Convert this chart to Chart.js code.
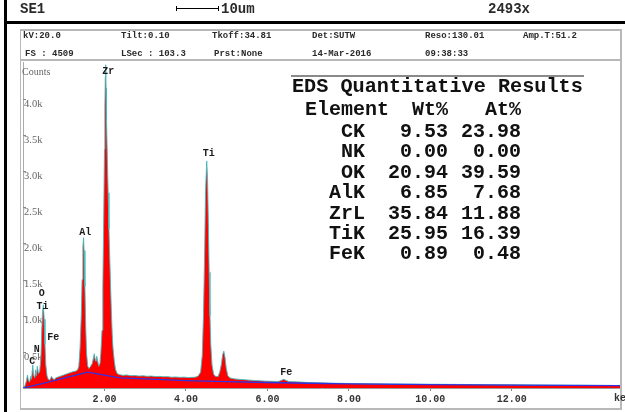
<!DOCTYPE html>
<html><head><meta charset="utf-8">
<script src="https://cdn.jsdelivr.net/npm/chart.js@4.4.1/dist/chart.umd.min.js"></script>
<style>
html,body{margin:0;padding:0;background:#fff;width:625px;height:412px;overflow:hidden;}
#wrap{position:relative;width:625px;height:412px;}
#chart{position:absolute;left:0;top:0;}
.t{position:absolute;white-space:pre;font-family:"Liberation Mono","Courier New",monospace;font-weight:bold;color:#2a2a2a;line-height:1;}
.ln{position:absolute;}
</style></head>
<body><div id="wrap"><canvas id="chart" width="625" height="412"></canvas></div>
<script>
// ---- spectrum data (keV, counts) ----
const energyKeV = [0.00,0.04,0.08,0.11,0.13,0.16,0.19,0.21,0.24,0.26,0.29,0.31,0.33,0.35,0.38,0.41,0.44,0.46,0.48,0.50,0.52,0.54,0.56,0.59,0.62,0.66,0.70,0.73,0.77,0.80,0.90,1.00,1.10,1.20,1.30,
1.34,1.37,1.40,1.43,1.45,1.47,1.487,1.50,1.52,1.54,1.56,1.59,1.62,1.66,1.70,1.73,1.75,1.77,1.79,1.81,1.83,1.86,1.89,
1.91,1.94,1.96,1.98,2.00,2.01,2.02,2.03,2.04,2.05,2.07,2.09,2.11,2.13,2.15,2.17,2.19,2.21,2.24,2.27,2.31,
2.36,2.45,2.55,2.65,2.75,2.85,2.95,3.05,3.15,3.25,3.35,3.45,3.55,3.65,3.75,3.85,3.95,4.05,4.15,4.23,
4.30,4.36,4.40,4.43,4.46,4.48,4.51,4.53,4.55,4.57,4.59,4.61,4.64,4.68,4.73,4.79,4.83,4.87,4.90,4.93,4.96,4.99,5.03,5.08,
5.20,5.35,5.50,5.65,5.80,5.95,6.10,6.22,6.28,6.34,6.40,6.46,6.52,6.65,6.80,7.00,7.25,7.50,7.75,8.00,8.50,9.00,9.50,10.00,10.50,11.00,11.50,12.00,12.50,13.00,13.50,14.00,14.68];
const counts = [0,20,90,180,110,80,160,120,320,180,140,250,170,300,200,230,420,800,1050,1150,950,600,320,170,120,110,160,130,115,140,160,180,200,220,235,
250,300,550,1000,1500,1950,2080,1900,1400,850,480,300,270,300,340,420,475,400,370,440,380,300,340,
480,800,1400,2300,3300,3900,4300,4470,4150,3700,3200,2700,2200,1800,1400,1050,750,550,380,260,200,
185,175,180,170,172,165,168,162,165,158,160,155,157,150,152,147,150,145,147,150,
165,220,450,1000,1900,2700,3140,2900,2300,1600,1000,600,320,190,160,160,220,330,460,510,420,270,170,140,
125,118,112,105,100,95,92,90,92,105,120,105,90,86,82,76,72,68,65,62,58,56,54,52,50,48,46,44,42,40,38,36,34];
// fitted background
const bgEnergyKeV = [0,0.5,1.0,1.59,2.0,2.38,3.0,4.0,5.0,6.0,7.0,8.0,10.0,12.0,14.68];
const bgCounts = [0,65,135,220,178,140,125,103,88,76,66,58,48,40,32];
// axes
const xTickValues = [2,4,6,8,10,12];
const yTickValues = [500,1000,1500,2000,2500,3000,3500,4000];
const xMaxKeV = 14.68;
const yFullScale = 4509;
// peak labels (label anchor in keV / counts)
const peakNames = ['Zr','Ti','Al','O','Ti','Fe','N','C','Fe'];
const peakLabelKeV = [2.09,4.56,1.53,0.46,0.48,0.74,0.34,0.23,6.46];
const peakLabelCounts = [4375,3237,2148,1310,1134,696,535,364,212];
// quant table
const elements = ['CK','NK','OK','AlK','ZrL','TiK','FeK'];
const wtPct = ['9.53','0.00','20.94','6.85','35.84','25.95','0.89'];
const atPct = ['23.98','0.00','39.59','7.68','11.88','16.39','0.48'];
// header
const headerRow1 = ['kV:20.0','Tilt:0.10','Tkoff:34.81','Det:SUTW','Reso:130.01','Amp.T:51.2'];
const headerRow2 = ['FS : 4509','LSec : 103.3','Prst:None','14-Mar-2016','09:38:33'];

const wrap = document.getElementById('wrap');
function txt(s, left, cy, size, extra){
  const d=document.createElement('div'); d.className='t'; d.textContent=s;
  d.style.fontSize=size+'px'; d.style.top=(cy-0.48*size)+'px';
  if(extra && extra.right!==undefined){ d.style.right=(625-extra.right)+'px'; d.style.textAlign='right'; }
  else d.style.left=left+'px';
  if(extra && extra.font) d.style.fontFamily=extra.font;
  if(extra && extra.weight) d.style.fontWeight=extra.weight;
  if(extra && extra.color) d.style.color=extra.color;
  wrap.appendChild(d); return d;
}
function box(l,t,w,h,c){const d=document.createElement('div');d.className='ln';
  Object.assign(d.style,{left:l+'px',top:t+'px',width:w+'px',height:h+'px',background:c});wrap.appendChild(d);}

// frame
box(4,0,3,412,'#000');
box(4,21,621,3,'#000');
box(20,29,602,2,'#b8b8b8');
box(20,29,1,381,'#b8b8b8');
box(620,29,2,381,'#b8b8b8');
box(20,408,602,2,'#b8b8b8');
box(20,59,602,2,'#b8b8b8');
// top bar
txt('SE1',20,9,14);
box(176,8,43,1,'#000'); box(176,6,1,5,'#000'); box(218,6,1,5,'#000');
txt('10um',221,9,14);
txt('2493x',488,9,14);
const col1=[23,121,212,312,425,523];
headerRow1.forEach((s,i)=>txt(s,col1[i],36,9));
const col2=[25,121,214,312,425];
headerRow2.forEach((s,i)=>txt(s,col2[i],54,9));
// table
box(291,75,293,2,'#8a8a8a');
txt('EDS Quantitative Results',292,87,20.2,{color:'#111'});
txt('Element',305,110,20,{color:'#111'});
txt('Wt%',0,110,20,{right:448,color:'#111'});
txt('At%',0,110,20,{right:521,color:'#111'});
elements.forEach((e,i)=>{
  const cy=131.7+20.35*i;
  txt(e,0,cy,20,{right:365,color:'#111'});
  txt(wtPct[i],0,cy,20,{right:448,color:'#111'});
  txt(atPct[i],0,cy,20,{right:521,color:'#111'});
});
txt('Counts',22,71.5,10,{font:'"Liberation Serif",serif',weight:'normal',color:'#666'});
txt('keV',614,398.5,10,{color:'#333'});

const peakLabelPlugin = {
  id:'peakLabels',
  afterDatasetsDraw(chart){
    const ctx=chart.ctx, xs=chart.scales.x, ys=chart.scales.y;
    ctx.save();
    // small inward y tick marks
    ctx.strokeStyle='#888'; ctx.lineWidth=1;
    ys.ticks.forEach(t=>{const py=Math.round(ys.getPixelForValue(t.value))+0.5;
      ctx.beginPath(); ctx.moveTo(chart.chartArea.left,py); ctx.lineTo(chart.chartArea.left+3,py); ctx.stroke();});
    ctx.font='bold 10px "Liberation Mono", monospace';
    ctx.fillStyle='#1a1a1a'; ctx.textAlign='center'; ctx.textBaseline='middle';
    peakNames.forEach((n,i)=>ctx.fillText(n, xs.getPixelForValue(peakLabelKeV[i]), ys.getPixelForValue(peakLabelCounts[i])));
    ctx.restore();
  }
};

new Chart(document.getElementById('chart'),{
  type:'line',
  data:{datasets:[
    {label:'Background', data:bgEnergyKeV.map((x,i)=>({x,y:bgCounts[i]})), borderColor:'rgb(50,50,225)', borderWidth:1.3, pointRadius:0, fill:false, order:0},
    {label:'Spectrum', data:energyKeV.map((x,i)=>({x,y:counts[i]})), borderColor:'rgba(70,185,190,0.9)', borderWidth:1, backgroundColor:'#ff0000', pointRadius:0, fill:'origin', order:1}
  ]},
  options:{
    responsive:false, animation:false, devicePixelRatio:1,
    layout:{padding:{left:21,top:62,right:4,bottom:5}},
    plugins:{legend:{display:false},tooltip:{enabled:false}},
    scales:{
      x:{type:'linear',min:0,max:xMaxKeV,
        afterBuildTicks:(s)=>{s.ticks=xTickValues.map(v=>({value:v}));},
        ticks:{callback:(v)=>Number(v).toFixed(2),font:{family:'"Liberation Mono", monospace',size:10,weight:'bold'},color:'#333',padding:2,maxRotation:0,autoSkip:false},
        grid:{drawOnChartArea:false,drawTicks:true,tickLength:3,color:'#888'},
        border:{display:true,color:'#999',width:1}},
      y:{type:'linear',min:0,max:yFullScale,
        afterBuildTicks:(s)=>{s.ticks=yTickValues.map(v=>({value:v}));},
        ticks:{mirror:true,padding:1,labelOffset:5,callback:(v)=>(v/1000).toFixed(1)+'k',font:{family:'"Liberation Serif", serif',size:10.5},color:'#666',autoSkip:false},
        grid:{drawOnChartArea:false,drawTicks:false},
        border:{display:true,color:'#aaa',width:1}}
    }
  },
  plugins:[peakLabelPlugin]
});
</script></body></html>
